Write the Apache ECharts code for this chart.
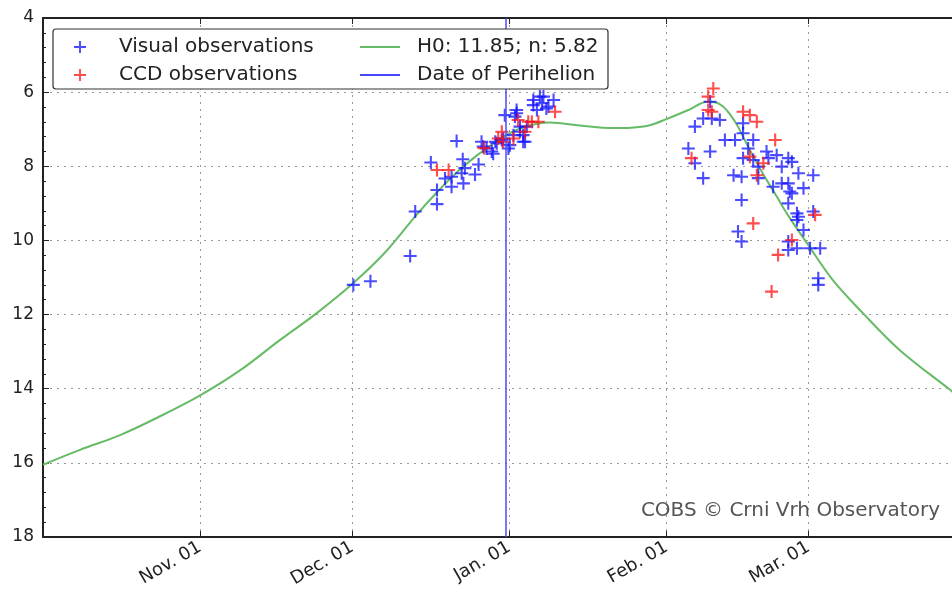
<!DOCTYPE html>
<html>
<head>
<meta charset="utf-8">
<script src="https://cdn.jsdelivr.net/npm/echarts@6/dist/echarts.min.js"></script>
<style>
  html, body { margin: 0; padding: 0; background: #fff; }
  #main { width: 952px; height: 597px; }
</style>
</head>
<body>
<div id="main"></div>
<script>
// visual observations (date, magnitude)
var visualDates = [
  '2021-12-01 05:00', '2021-12-04 14:00', '2021-12-12 10:00', '2021-12-13 10:00', '2021-12-16 12:00',
  '2021-12-17 17:00', '2021-12-17 17:00', '2021-12-19 07:00', '2021-12-20 14:00', '2021-12-20 14:00',
  '2021-12-21 14:00', '2021-12-22 14:00', '2021-12-22 19:00', '2021-12-22 22:00', '2021-12-23 05:00',
  '2021-12-25 05:00', '2021-12-25 22:00', '2021-12-26 12:00', '2021-12-26 20:00', '2021-12-27 12:00',
  '2021-12-28 12:00', '2021-12-28 19:00', '2021-12-29 05:00', '2021-12-29 12:00', '2021-12-30 12:00',
  '2021-12-30 19:00', '2021-12-31 02:00', '2021-12-31 19:00', '2022-01-01 02:00', '2022-01-01 19:00',
  '2022-01-02 02:00', '2022-01-02 10:00', '2022-01-02 10:00', '2022-01-03 02:00', '2022-01-03 02:00',
  '2022-01-03 17:00', '2022-01-03 17:00', '2022-01-04 02:00', '2022-01-04 10:00', '2022-01-05 17:00',
  '2022-01-05 17:00', '2022-01-06 10:00', '2022-01-07 00:00', '2022-01-07 10:00', '2022-01-07 17:00',
  '2022-01-08 07:00', '2022-01-08 17:00', '2022-01-09 17:00',
  '2022-02-05 07:00', '2022-02-06 14:00', '2022-02-06 14:00', '2022-02-08 05:00', '2022-02-08 05:00',
  '2022-02-09 14:00', '2022-02-09 14:00', '2022-02-09 22:00', '2022-02-11 12:00', '2022-02-12 12:00',
  '2022-02-14 05:00', '2022-02-14 12:00', '2022-02-15 02:00', '2022-02-15 19:00', '2022-02-15 19:00',
  '2022-02-15 19:00', '2022-02-16 02:00', '2022-02-16 02:00', '2022-02-16 02:00', '2022-02-17 02:00',
  '2022-02-18 02:00', '2022-02-18 02:00', '2022-02-19 02:00', '2022-02-19 02:00', '2022-02-20 17:00',
  '2022-02-21 02:00', '2022-02-22 00:00', '2022-02-22 17:00', '2022-02-23 17:00', '2022-02-23 17:00',
  '2022-02-25 00:00', '2022-02-25 00:00', '2022-02-25 00:00', '2022-02-25 00:00', '2022-02-25 00:00',
  '2022-02-25 07:00', '2022-02-25 17:00', '2022-02-25 17:00', '2022-02-26 17:00', '2022-02-26 17:00',
  '2022-02-26 17:00', '2022-02-27 00:00', '2022-02-27 00:00', '2022-02-28 00:00', '2022-02-28 00:00',
  '2022-03-01 07:00', '2022-03-01 22:00', '2022-03-01 22:00', '2022-03-02 22:00', '2022-03-02 22:00',
  '2022-03-03 07:00'
];
var visualMags = [
  11.2, 11.1, 10.42, 9.22, 7.9,
  9.02, 8.64, 8.33, 8.55, 8.28,
  7.32, 8.19, 7.81, 8.46, 8.05,
  8.22, 7.95, 7.34, 7.47, 7.52,
  7.6, 7.66, 7.34, 7.38, 7.29,
  7.25, 6.62, 7.52, 7.43, 7.16,
  6.66, 6.57, 6.48, 6.93, 7.07,
  7.16, 7.34, 7.34, 6.93, 6.35,
  6.21, 6.48, 6.12, 6.3, 6.12,
  6.44, 6.39, 6.21,
  7.52, 6.93, 7.92, 6.71, 8.32,
  6.26, 7.6, 6.71, 6.75, 7.29,
  8.24, 7.29, 9.76, 8.28, 8.91,
  10.03, 6.84, 7.11, 7.78, 7.52,
  7.29, 7.83, 8.01, 8.32, 7.6,
  7.78, 8.55, 7.7, 8.01, 8.46,
  7.78, 8.46, 9.0, 10.03, 10.26,
  8.68, 7.88, 8.73, 9.27, 9.45,
  10.21, 8.19, 9.36, 8.59, 9.72,
  10.21, 8.24, 9.22, 11.02, 11.2,
  10.21
];

// CCD observations
var ccdDates = [
  '2021-12-17 17:00', '2021-12-20 00:00', '2021-12-27 00:00', '2021-12-29 19:00', '2021-12-30 12:00',
  '2021-12-30 17:00', '2022-01-01 19:00', '2022-01-02 17:00', '2022-01-04 02:00', '2022-01-04 17:00',
  '2022-01-05 10:00', '2022-01-06 17:00', '2022-01-10 00:00',
  '2022-02-05 22:00', '2022-02-09 05:00', '2022-02-09 05:00', '2022-02-09 22:00', '2022-02-10 05:00',
  '2022-02-16 02:00', '2022-02-17 10:00', '2022-02-17 10:00', '2022-02-18 02:00', '2022-02-18 19:00',
  '2022-02-18 19:00', '2022-02-20 02:00', '2022-02-21 17:00', '2022-02-22 10:00', '2022-02-23 00:00',
  '2022-02-25 17:00', '2022-03-02 07:00'
];
var ccdMags = [
  8.1, 8.1, 7.51, 7.25, 7.07,
  7.34, 7.25, 6.75, 7.07, 6.8,
  6.8, 6.8, 6.53,
  7.78, 6.12, 6.48, 6.53, 5.9,
  6.53, 6.62, 7.74, 9.54, 6.8,
  8.24, 7.92, 11.38, 7.29, 10.39,
  9.99, 9.31
];

// model light curve H0: 11.85; n: 5.82
var modelDates = [
  '2021-10-01 00:00', '2021-10-08 07:00', '2021-10-16 05:00', '2021-10-24 00:00', '2021-11-01 00:00',
  '2021-11-08 22:00', '2021-11-16 17:00', '2021-11-24 00:00', '2021-12-01 05:00', '2021-12-07 12:00',
  '2021-12-13 10:00', '2021-12-17 17:00', '2021-12-21 14:00', '2021-12-24 22:00', '2021-12-27 12:00',
  '2021-12-30 19:00', '2022-01-03 02:00', '2022-01-06 10:00', '2022-01-09 00:00', '2022-01-14 22:00',
  '2022-01-21 10:00', '2022-01-25 00:00', '2022-01-28 12:00', '2022-02-01 02:00', '2022-02-05 12:00',
  '2022-02-09 00:00', '2022-02-10 12:00', '2022-02-12 02:00', '2022-02-13 12:00', '2022-02-14 22:00',
  '2022-02-17 10:00', '2022-02-20 00:00', '2022-02-22 19:00', '2022-02-24 17:00', '2022-02-28 22:00',
  '2022-03-05 19:00', '2022-03-11 17:00', '2022-03-19 00:00', '2022-03-28 22:00', '2022-03-30 00:00'
];
var modelMags = [
  16.05, 15.65, 15.25, 14.75, 14.18,
  13.5, 12.69, 11.96, 11.15, 10.32,
  9.35, 8.7, 8.17, 7.78, 7.52,
  7.2, 6.98, 6.85, 6.82, 6.9,
  6.97, 6.96, 6.9, 6.72, 6.47,
  6.26, 6.27, 6.38, 6.6, 6.89,
  7.56, 8.2, 8.83, 9.27, 10.12,
  11.07, 11.96, 12.96, 14.03, 14.15
];

var perihelionDate = '2021-12-31 08:00';
var xMin = '2021-10-01 00:00';
var xMax = '2022-03-29 07:00';
var seriesNames = ['Visual observations', 'CCD observations', 'H0: 11.85; n: 5.82', 'Date of Perihelion'];

function pairs(d, m) {
  return d.map(function (v, i) { return [v, m[i]]; });
}

var DAY = 86400000;
var xMinTime = echarts.time.parse(xMin).getTime();
var plus = 'path://M4.2,0H5.8V4.2H10V5.8H5.8V10H4.2V5.8H0V4.2H4.2Z';
var fontFam = '"DejaVu Sans", sans-serif';

var chart = echarts.init(document.getElementById('main'));
var option = {
  animation: false,
  backgroundColor: '#fff',
  grid: { left: 43, right: 0, top: 18, bottom: 60, outerBoundsMode: 'none', containLabel: false },
  xAxis: [{
    type: 'time',
    min: xMin,
    max: xMax,
    minInterval: 28 * DAY,
    maxInterval: 31 * DAY,
    axisLine: { show: true, lineStyle: { color: '#222', width: 2 } },
    axisTick: { show: true, inside: true, length: 6, lineStyle: { color: '#222', width: 1 } },
    axisLabel: {
      rotate: 30,
      margin: 9,
      formatter: function (v) {
        return v <= xMinTime + DAY ? '' : echarts.time.format(v, '{MMM}. {dd}', false);
      },
      color: '#222',
      fontSize: 18,
      fontFamily: fontFam
    },
    splitLine: { show: true, lineStyle: { color: '#999', type: [2, 5], width: 1 } }
  }, {
    type: 'time',
    position: 'top',
    min: xMin,
    max: xMax,
    minInterval: 28 * DAY,
    maxInterval: 31 * DAY,
    axisLine: { show: true, lineStyle: { color: '#222', width: 2 } },
    axisTick: { show: true, inside: true, length: 6, lineStyle: { color: '#222', width: 1 } },
    axisLabel: { show: false },
    splitLine: { show: false }
  }],
  yAxis: {
    type: 'value',
    inverse: true,
    min: 4,
    max: 18,
    interval: 2,
    axisLine: { show: true, lineStyle: { color: '#222', width: 2 } },
    axisTick: { show: true, inside: true, length: 6, lineStyle: { color: '#222' } },
    minorTick: { show: true, splitNumber: 5, length: 3, lineStyle: { color: '#222' } },
    axisLabel: { color: '#222', fontSize: 17, margin: 9, fontFamily: fontFam },
    splitLine: { show: true, lineStyle: { color: '#999', type: [2, 5], width: 1 } }
  },
  legend: [{
    data: [seriesNames[0], seriesNames[1]],
    orient: 'vertical',
    left: 69,
    top: 32,
    itemWidth: 60,
    itemHeight: 12,
    itemGap: 8,
    z: 60,
    textStyle: { color: '#222', fontSize: 20, fontFamily: fontFam, padding: [0, 0, 0, 4] }
  }, {
    data: [
      { name: seriesNames[2], icon: 'rect' },
      { name: seriesNames[3], icon: 'rect' }
    ],
    orient: 'vertical',
    left: 355,
    top: 32,
    itemWidth: 40,
    itemHeight: 2,
    itemGap: 8,
    z: 60,
    textStyle: { color: '#222', fontSize: 20, fontFamily: fontFam, padding: [0, 0, 0, 12] }
  }],
  graphic: [{
    type: 'rect',
    z: 50,
    shape: { x: 53, y: 29, width: 555, height: 60, r: 3 },
    style: { fill: '#fff', stroke: '#333', lineWidth: 1.2 }
  }, {
    type: 'text',
    right: 12,
    top: 501,
    z: 50,
    style: { text: 'COBS \u00a9 Crni Vrh Observatory', fill: '#555', font: '20px "DejaVu Sans", sans-serif' }
  }],
  series: [{
    name: seriesNames[0],
    type: 'scatter',
    symbol: plus,
    symbolSize: 13,
    itemStyle: { color: '#1010ff', opacity: 0.75 },
    data: pairs(visualDates, visualMags),
    z: 4
  }, {
    name: seriesNames[1],
    type: 'scatter',
    symbol: plus,
    symbolSize: 13,
    itemStyle: { color: '#ff1010', opacity: 0.75 },
    data: pairs(ccdDates, ccdMags),
    z: 4
  }, {
    name: seriesNames[2],
    type: 'line',
    symbol: 'none',
    smooth: 0.35,
    itemStyle: { color: '#66bb66' },
    lineStyle: { color: '#66bb66', width: 2 },
    data: pairs(modelDates, modelMags),
    z: 3
  }, {
    name: seriesNames[3],
    type: 'line',
    symbol: 'none',
    itemStyle: { color: '#4848ff' },
    lineStyle: { color: '#4848ff', width: 1.5 },
    data: [],
    markLine: {
      silent: true,
      symbol: 'none',
      label: { show: false },
      lineStyle: { color: '#4848ff', width: 1.5, type: 'solid' },
      data: [{ xAxis: perihelionDate }]
    },
    z: 3
  }]
};
chart.setOption(option);
</script>
</body>
</html>
